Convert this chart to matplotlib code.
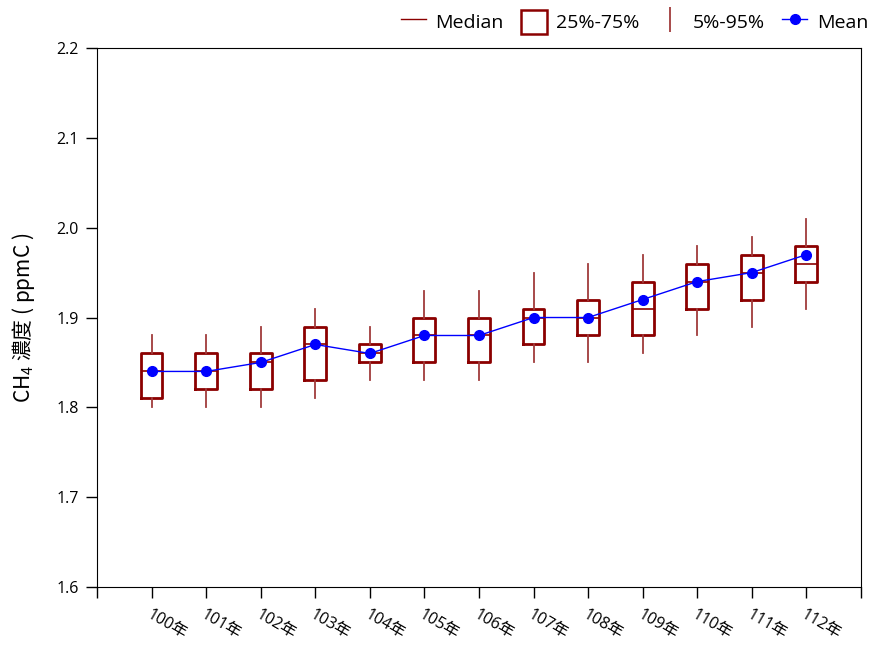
import matplotlib
matplotlib.use("Agg")
import matplotlib.pyplot as plt
from matplotlib.lines import Line2D
from matplotlib.patches import Patch

plt.rcParams['font.family'] = ['Open Sans', 'Noto Sans CJK TC', 'DejaVu Sans']
plt.rcParams['mathtext.fontset'] = 'custom'
plt.rcParams['mathtext.rm'] = 'Noto Sans CJK TC'
plt.rcParams['mathtext.it'] = 'Noto Sans CJK TC'

years = ['100年', '101年', '102年', '103年', '104年', '105年', '106年',
         '107年', '108年', '109年', '110年', '111年', '112年']
p5 = [1.80, 1.80, 1.80, 1.81, 1.83, 1.83, 1.83, 1.85, 1.85, 1.86, 1.88, 1.89, 1.91]
q1 = [1.81, 1.82, 1.82, 1.83, 1.85, 1.85, 1.85, 1.87, 1.88, 1.88, 1.91, 1.92, 1.94]
median = [1.84, 1.84, 1.85, 1.87, 1.86, 1.88, 1.88, 1.90, 1.90, 1.91, 1.94, 1.95, 1.96]
q3 = [1.86, 1.86, 1.86, 1.89, 1.87, 1.90, 1.90, 1.91, 1.92, 1.94, 1.96, 1.97, 1.98]
p95 = [1.88, 1.88, 1.89, 1.91, 1.89, 1.93, 1.93, 1.95, 1.96, 1.97, 1.98, 1.99, 2.01]
mean = [1.84, 1.84, 1.85, 1.87, 1.86, 1.88, 1.88, 1.90, 1.90, 1.92, 1.94, 1.95, 1.97]

box_color = '#8B0000'
whisker_color = '#A03C3C'

fig = plt.figure(figsize=(8.78, 6.48), dpi=100)
ax = fig.add_axes([0.1105, 0.094, 0.870, 0.832])

pos = list(range(1, len(years) + 1))
stats = []
for i in range(len(years)):
    stats.append({'whislo': p5[i], 'q1': q1[i], 'med': median[i],
                  'q3': q3[i], 'whishi': p95[i], 'fliers': []})

ax.bxp(stats, positions=pos, widths=0.4, showcaps=False, showfliers=False,
       boxprops=dict(color=box_color, linewidth=2),
       medianprops=dict(color=box_color, linewidth=1.2),
       whiskerprops=dict(color=whisker_color, linewidth=1.3),
       manage_ticks=False, zorder=2)

ax.plot(pos, mean, color='blue', linewidth=1, marker='o', markersize=7, zorder=3)

ax.set_xlim(0, 14)
ax.set_ylim(1.6, 2.2)
ax.set_xticks(range(0, 15))
ax.set_xticklabels([''] + years + [''], rotation=-30, ha='left', va='top',
                   rotation_mode='anchor', fontsize=11.5)
ax.set_yticks([1.6, 1.7, 1.8, 1.9, 2.0, 2.1, 2.2])
ax.set_yticklabels(['1.6', '1.7', '1.8', '1.9', '2.0', '2.1', '2.2'], fontsize=11.5)
ax.tick_params(axis='both', direction='out', length=8, width=1, pad=5)
ax.tick_params(axis='x', pad=6)
ax.set_ylabel('CH$_4$ 濃度 ( ppmC )', fontsize=15, labelpad=14,
              family=['Noto Sans CJK TC'])

handles = [
    Line2D([0], [0], color=box_color, linewidth=1),
    Patch(facecolor='white', edgecolor=box_color, linewidth=1.8),
    Line2D([0], [0], color=whisker_color, marker='|', linestyle='none',
           markersize=18, markeredgewidth=1.3),
    Line2D([0], [0], color='blue', linewidth=1, marker='o', markersize=7),
]
labels = ['Median', '25%-75%', '5%-95%', 'Mean']
ax.legend(handles, labels, ncol=4, frameon=False, fontsize=14,
          loc='lower right', bbox_to_anchor=(1.025, 1.005), handlelength=1.3,
          handleheight=1.5, columnspacing=0.9, handletextpad=0.5,
          borderaxespad=0.2)

fig.savefig('out.png', dpi=100)
